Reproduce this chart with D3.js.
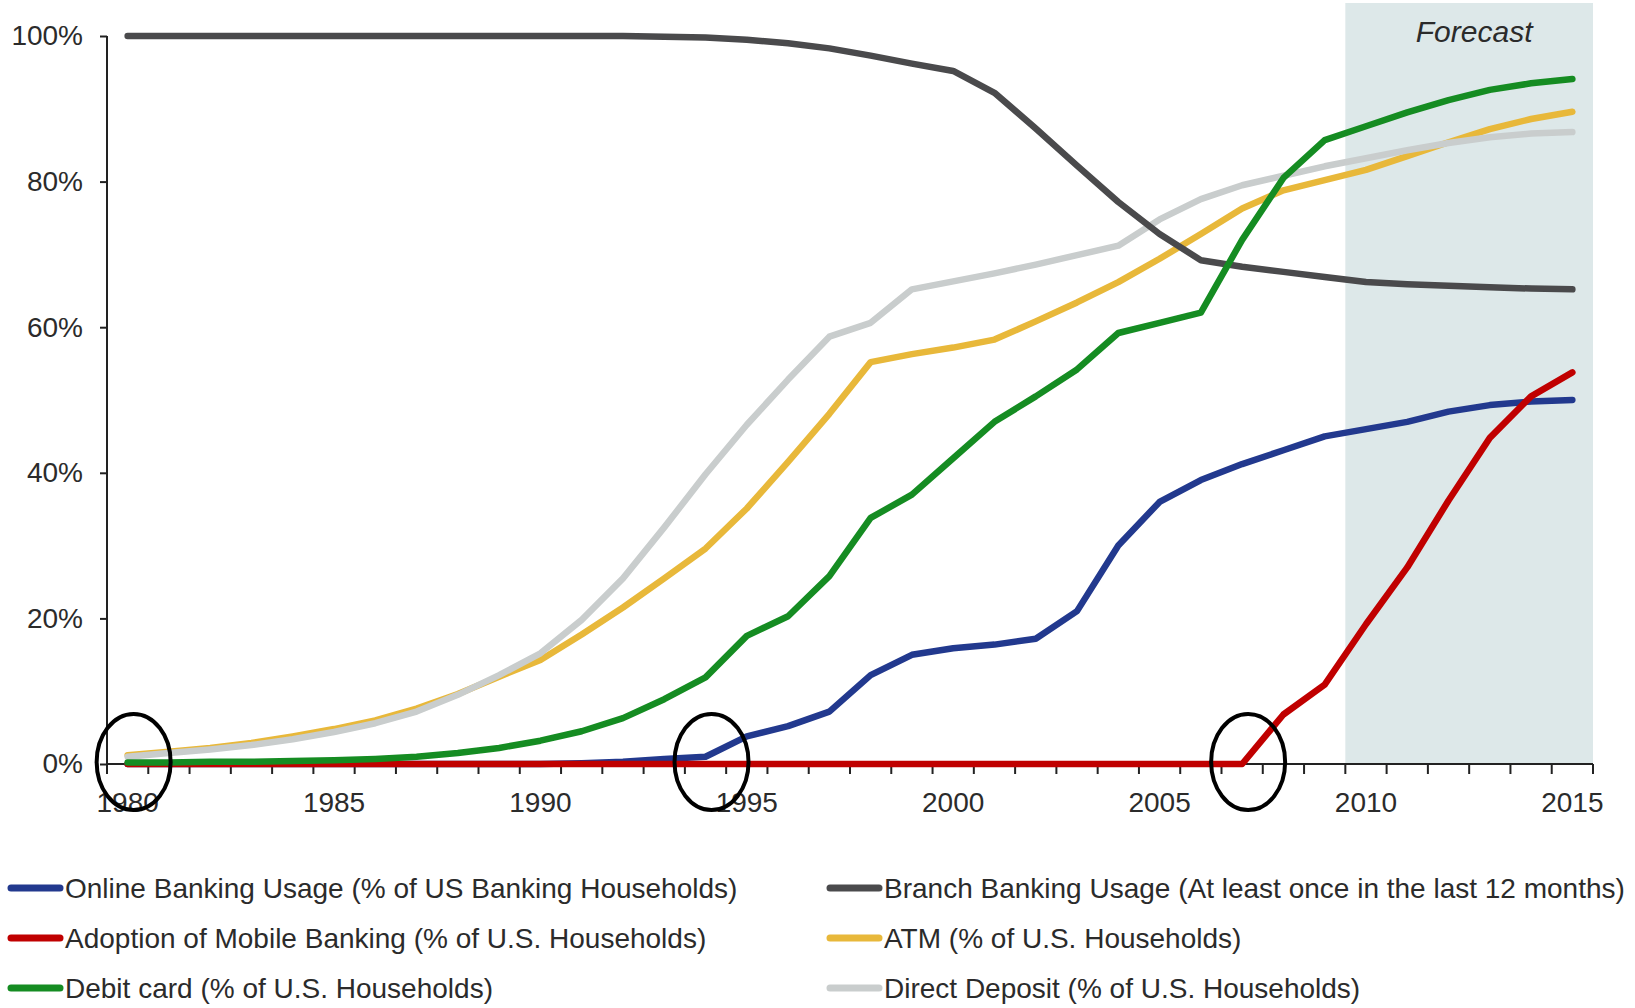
<!DOCTYPE html>
<html>
<head>
<meta charset="utf-8">
<script src="https://cdn.jsdelivr.net/npm/d3@7"></script>
<style>
  body { margin: 0; background: #fff; }
  text { font-family: "Liberation Sans", Arial, sans-serif; fill: #2b2b2b; }
</style>
</head>
<body>
<div id="chart"></div>
<script>
// categories: one per year, 1980..2015
const years = d3.range(1980, 2016);
const labelYears = [1980, 1985, 1990, 1995, 2000, 2005, 2010, 2015];
const yTicks = [0, 20, 40, 60, 80, 100];

// series values (% of households)
const online = [0,0,0,0,0,0,0,0,0,0,0,0.1,0.3,0.7,1.0,3.8,5.2,7.2,12.2,15,15.9,16.4,17.2,21,30,36,39,41.2,43.1,45,46,47,48.4,49.3,49.8,50];
const mobile = [0,0,0,0,0,0,0,0,0,0,0,0,0,0,0,0,0,0,0,0,0,0,0,0,0,0,0,0,6.8,10.9,19.2,27,36.2,44.8,50.5,53.8];
const debit  = [0.2,0.2,0.3,0.3,0.4,0.5,0.7,1.0,1.5,2.2,3.2,4.5,6.3,8.9,11.9,17.6,20.3,25.8,33.8,37,42,47,50.5,54.2,59.2,60.6,62,72,80.5,85.7,87.6,89.5,91.2,92.6,93.5,94.1];
const branch = [100,100,100,100,100,100,100,100,100,100,100,100,100,99.9,99.8,99.5,99.0,98.3,97.3,96.2,95.2,92.2,87.3,82.2,77.2,72.8,69.2,68.3,67.6,66.9,66.2,65.9,65.7,65.5,65.3,65.2];
const atm    = [1.2,1.7,2.2,2.9,3.8,4.8,6.0,7.6,9.6,12,14.3,17.8,21.5,25.5,29.6,35.1,41.5,48.1,55.2,56.3,57.2,58.3,60.8,63.4,66.2,69.4,72.8,76.3,78.8,80.2,81.6,83.5,85.4,87.2,88.6,89.6];
const deposit= [1.0,1.5,2.0,2.6,3.4,4.4,5.6,7.2,9.5,12.2,15.2,19.8,25.5,32.5,39.8,46.6,52.8,58.7,60.6,65.2,66.3,67.4,68.6,69.9,71.2,74.8,77.6,79.5,80.8,82.1,83.2,84.3,85.3,86.1,86.6,86.8];

const seriesNames = [
  "Online Banking Usage (% of US Banking Households)",
  "Adoption of Mobile Banking (% of U.S. Households)",
  "Debit card (% of U.S. Households)",
  "Branch Banking Usage (At least once in the last 12 months)",
  "ATM (% of U.S. Households)",
  "Direct Deposit (% of U.S. Households)"
];
const seriesValues = [online, mobile, debit, branch, atm, deposit];
const seriesColors = ["#22398e", "#c00000", "#158c22", "#4a4a4c", "#e8b83a", "#c9cdcd"];
const drawOrder = [4, 5, 3, 0, 1, 2];

const forecastStart = 2010;
const circledYears = [1980, 1994, 2007];

const width = 1635, height = 1008;
const plotLeft = 107, plotRight = 1593, plotTop = 36, plotBottom = 764;

const svg = d3.select("#chart").append("svg")
  .attr("width", width)
  .attr("height", height);

const x = d3.scaleBand().domain(years).range([plotLeft, plotRight]).padding(0);
const xc = yr => x(yr) + x.bandwidth() / 2;
const y = d3.scaleLinear().domain([0, 100]).range([plotBottom, plotTop]);

// forecast shading
svg.append("rect")
  .attr("x", x(forecastStart))
  .attr("y", 3)
  .attr("width", plotRight - x(forecastStart))
  .attr("height", plotBottom - 3)
  .attr("fill", "#dde8e9");

svg.append("text")
  .attr("x", (x(forecastStart) + plotRight) / 2 + 5)
  .attr("y", 42)
  .attr("text-anchor", "middle")
  .style("font-size", "30px")
  .style("font-style", "italic")
  .text("Forecast");

// y axis
const yAxis = svg.append("g")
  .attr("transform", `translate(${plotLeft},0)`)
  .call(d3.axisLeft(y).tickValues(yTicks).tickFormat(d => d + "%").tickSize(7).tickPadding(17));
yAxis.select(".domain").attr("stroke", "#222").attr("stroke-width", 2)
  .attr("d", `M0,${plotTop}V${plotBottom}`);
yAxis.selectAll(".tick line").attr("stroke", "#222").attr("stroke-width", 2);
yAxis.selectAll(".tick text").style("font-size", "28px").attr("fill", "#2b2b2b");
yAxis.attr("font-family", null);

// x axis: ticks on category boundaries, labels at centres
const xAxis = svg.append("g").attr("transform", `translate(0,${plotBottom})`);
xAxis.append("line")
  .attr("x1", plotLeft).attr("x2", plotRight)
  .attr("stroke", "#222").attr("stroke-width", 2);
xAxis.selectAll(".bt")
  .data(years.concat([null]))
  .join("line")
  .attr("x1", (d, i) => plotLeft + i * x.bandwidth())
  .attr("x2", (d, i) => plotLeft + i * x.bandwidth())
  .attr("y1", 0).attr("y2", 10)
  .attr("stroke", "#222").attr("stroke-width", 2);
xAxis.selectAll(".xl")
  .data(labelYears)
  .join("text")
  .attr("x", d => xc(d))
  .attr("y", 48)
  .attr("text-anchor", "middle")
  .style("font-size", "28px")
  .text(d => d);

// lines
const line = d3.line()
  .x((d, i) => xc(years[i]))
  .y(d => y(d));

drawOrder.forEach(k => {
  svg.append("path")
    .datum(seriesValues[k])
    .attr("d", line)
    .attr("fill", "none")
    .attr("stroke", seriesColors[k])
    .attr("stroke-width", 6.5)
    .attr("stroke-linejoin", "round")
    .attr("stroke-linecap", "round");
});

// annotation circles
svg.selectAll(".ring")
  .data(circledYears)
  .join("ellipse")
  .attr("cx", d => xc(d) + 6)
  .attr("cy", y(0) - 2)
  .attr("rx", 37)
  .attr("ry", 48)
  .attr("fill", "none")
  .attr("stroke", "#000")
  .attr("stroke-width", 4);

// legend: two columns, three rows
const legendCols = [8, 827];
const legendRows = [888, 938, 988];
const legend = svg.append("g");
seriesNames.forEach((name, i) => {
  const lx = legendCols[Math.floor(i / 3)];
  const ly = legendRows[i % 3];
  legend.append("line")
    .attr("x1", lx + 3).attr("x2", lx + 52)
    .attr("y1", ly).attr("y2", ly)
    .attr("stroke", seriesColors[i])
    .attr("stroke-width", 7)
    .attr("stroke-linecap", "round");
  legend.append("text")
    .attr("x", lx + 57)
    .attr("y", ly)
    .attr("dy", "0.35em")
    .style("font-size", "28px")
    .text(name);
});
</script>
</body>
</html>
